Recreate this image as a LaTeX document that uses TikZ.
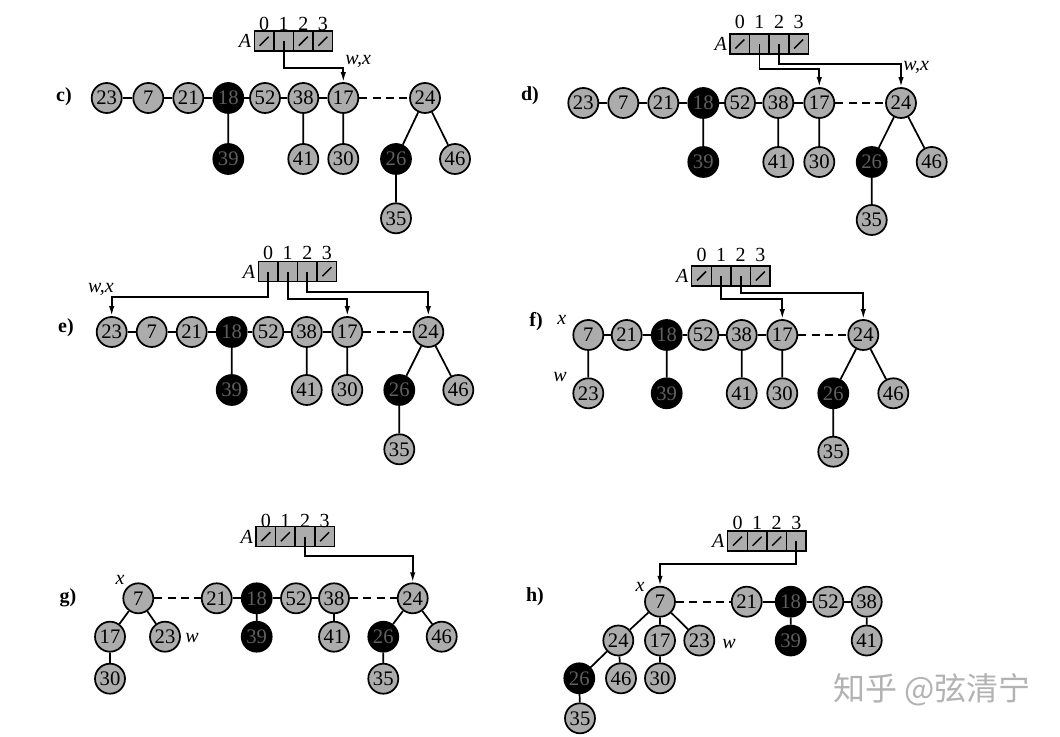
\documentclass[tikz,border=0pt]{standalone}
\usepackage{fontspec}
\setmainfont{Liberation Serif}
\newfontfamily\cjkfont{Noto Sans CJK SC}
\usetikzlibrary{arrows.meta}
\definecolor{ngray}{RGB}{172,172,172}
\definecolor{ntext}{RGB}{95,95,95}
\newcommand\mkg[4]{\node[gn] (#1#2) at (#3,#4) {#2};}
\newcommand\mkb[4]{\node[bn] (#1#2) at (#3,#4) {#2};}
\newcommand\mkarr[4]{%
  \node[alab, anchor=east] (#1A) at (#2-3,#3) {A};
  \foreach \i in {0,1,2,3}{%
    \node[cell] (#1a\i) at ({#2+9.8+19.6*\i},#3) {};
    \node[idx] (#1i\i) at ({#2+9.8+19.6*\i},#4) {\i};
  }%
}
\newcommand\slashc[1]{\draw[sl] ([shift={(-4.5,4.5)}]#1.center) -- ([shift={(4.5,-4.5)}]#1.center);}
\begin{document}
\begin{tikzpicture}[x=0.75pt,y=-0.75pt,
  gn/.style={circle,draw=black,line width=1.3pt,fill=ngray,minimum size=22.5pt,inner sep=0pt,font=\fontsize{15.5}{15.5}\selectfont},
  bn/.style={circle,draw=black,line width=1.3pt,fill=black,text=ntext,minimum size=22.5pt,inner sep=0pt,font=\fontsize{15.5}{15.5}\selectfont},
  cell/.style={rectangle,draw=black,line width=1.1pt,fill=ngray,minimum width=14.7pt,minimum height=15pt,inner sep=0pt},
  idx/.style={inner sep=0pt,font=\fontsize{15}{15}\selectfont},
  alab/.style={inner sep=0pt,font=\fontsize{15}{15}\selectfont\itshape},
  lab/.style={inner sep=0pt,font=\fontsize{15}{15}\selectfont\itshape},
  plab/.style={inner sep=0pt,font=\fontsize{15}{15}\selectfont\bfseries},
  sl/.style={line width=1.1pt},
  ed/.style={line width=1.3pt},
  dsh/.style={line width=1.3pt,dash pattern=on 6pt off 4pt},
  ptr/.style={line width=1.3pt,-{Latex[length=7.5pt,width=4pt]}}
]
\useasboundingbox (0,0) rectangle (1060,737);

% ---------------- c) ----------------
\node[plab] (lc) at (64,97) {c)};
\mkarr{c}{254.3}{41.2}{23.5}
\slashc{ca0}\slashc{ca2}\slashc{ca3}
\mkg{c}{23}{106.7}{98}\mkg{c}{7}{148.3}{98}\mkg{c}{21}{188.3}{98}\mkb{c}{18}{228.3}{98}
\mkg{c}{52}{265}{98}\mkg{c}{38}{303.3}{98}\mkg{c}{17}{343.3}{98}\mkg{c}{24}{425}{98}
\mkb{c}{39}{228.3}{159}\mkg{c}{41}{303.3}{159}\mkg{c}{30}{343.3}{159}\mkb{c}{26}{396}{159}\mkg{c}{46}{455}{159}
\mkg{c}{35}{396}{218.3}
\draw[ed] (c23)--(c7)--(c21)--(c18)--(c52)--(c38)--(c17);
\draw[dsh] (c17)--(c24);
\draw[ed] (c18)--(c39) (c38)--(c41) (c17)--(c30) (c24)--(c26) (c24)--(c46) (c26)--(c35);
\coordinate (cy1) at (0,67.7);
\draw[ptr] (ca1.center) |- (c17.north |- cy1) -- (c17.north);
\node[lab,anchor=west] (cwx) at (345,61) {w,x};

% ---------------- d) ----------------
\node[plab] (ld) at (530,96) {d)};
\mkarr{d}{730}{44}{22}
\slashc{da0}\slashc{da3}
\mkg{d}{23}{583.3}{103}\mkg{d}{7}{623.3}{103}\mkg{d}{21}{663.3}{103}\mkb{d}{18}{703.3}{103}
\mkg{d}{52}{740}{103}\mkg{d}{38}{778.3}{103}\mkg{d}{17}{819.3}{103}\mkg{d}{24}{901}{103}
\mkb{d}{39}{703.3}{162}\mkg{d}{41}{778.3}{162}\mkg{d}{30}{819.3}{162}\mkb{d}{26}{871.7}{162}\mkg{d}{46}{931.7}{162}
\mkg{d}{35}{871.7}{220}
\draw[ed] (d23)--(d7)--(d21)--(d18)--(d52)--(d38)--(d17);
\draw[dsh] (d17)--(d24);
\draw[ed] (d18)--(d39) (d38)--(d41) (d17)--(d30) (d24)--(d26) (d24)--(d46) (d26)--(d35);
\coordinate (dy1) at (0,69.3);
\coordinate (dy2) at (0,64);
\draw[ptr] (da1.center) |- (d17.north |- dy1) -- (d17.north);
\draw[ptr] (da2.center) |- (d24.north |- dy2) -- (d24.north);
\node[lab,anchor=west] (dwx) at (903,67) {w,x};

% ---------------- e) ----------------
\node[plab] (le) at (66,328) {e)};
\mkarr{e}{258.3}{271.7}{253.3}
\slashc{ea3}
\mkg{e}{23}{111.7}{332}\mkg{e}{7}{151.7}{332}\mkg{e}{21}{191.7}{332}\mkb{e}{18}{231.7}{332}
\mkg{e}{52}{268.3}{332}\mkg{e}{38}{306.7}{332}\mkg{e}{17}{347.3}{332}\mkg{e}{24}{428.3}{332}
\mkb{e}{39}{231.7}{390}\mkg{e}{41}{306.7}{390}\mkg{e}{30}{347.3}{390}\mkb{e}{26}{399.3}{390}\mkg{e}{46}{458.3}{390}
\mkg{e}{35}{399.3}{449.3}
\draw[ed] (e23)--(e7)--(e21)--(e18)--(e52)--(e38)--(e17);
\draw[dsh] (e17)--(e24);
\draw[ed] (e18)--(e39) (e38)--(e41) (e17)--(e30) (e24)--(e26) (e24)--(e46) (e26)--(e35);
\coordinate (ey0) at (0,297.3);
\coordinate (ey1) at (0,299.3);
\coordinate (ey2) at (0,291.7);
\draw[ptr] (ea0.center) |- (e23.north |- ey0) -- (e23.north);
\draw[ptr] (ea1.center) |- (e17.north |- ey1) -- (e17.north);
\draw[ptr] (ea2.center) |- (e24.north |- ey2) -- (e24.north);
\node[lab] (ewx) at (101,289) {w,x};

% ---------------- f) ----------------
\node[plab] (lf) at (536,322) {f)};
\mkarr{f}{691.7}{276}{255}
\slashc{fa0}\slashc{fa3}
\mkg{f}{7}{588.3}{335}\mkg{f}{21}{626.7}{335}\mkb{f}{18}{666.7}{335}
\mkg{f}{52}{703.3}{335}\mkg{f}{38}{741.7}{335}\mkg{f}{17}{782.3}{335}\mkg{f}{24}{863.3}{335}
\mkg{f}{23}{588.3}{393.3}\mkb{f}{39}{666.7}{393.3}\mkg{f}{41}{741.7}{393.3}\mkg{f}{30}{782.3}{393.3}\mkb{f}{26}{833.3}{393.3}\mkg{f}{46}{893.3}{393.3}
\mkg{f}{35}{833.3}{451.7}
\draw[ed] (f7)--(f21)--(f18)--(f52)--(f38)--(f17);
\draw[dsh] (f17)--(f24);
\draw[ed] (f7)--(f23) (f18)--(f39) (f38)--(f41) (f17)--(f30) (f24)--(f26) (f24)--(f46) (f26)--(f35);
\coordinate (fy1) at (0,299.3);
\coordinate (fy2) at (0,292.7);
\draw[ptr] (fa1.center) |- (f17.north |- fy1) -- (f17.north);
\draw[ptr] (fa2.center) |- (f24.north |- fy2) -- (f24.north);
\node[lab] (fx) at (561.7,320) {x};
\node[lab] (fw) at (560,377) {w};

% ---------------- g) ----------------
\node[plab] (lg) at (68,598) {g)};
\mkarr{g}{256}{536.7}{520.5}
\slashc{ga0}\slashc{ga1}\slashc{ga3}
\mkg{g}{7}{138.3}{598.3}\mkg{g}{21}{216.7}{598.3}\mkb{g}{18}{256.7}{598.3}
\mkg{g}{52}{296}{598.3}\mkg{g}{38}{334}{598.3}\mkg{g}{24}{412.7}{598.3}
\mkg{g}{17}{110}{636.7}\mkg{g}{23}{165}{636.7}\mkb{g}{39}{256.7}{636.7}\mkg{g}{41}{334}{636.7}\mkb{g}{26}{383.3}{636.7}\mkg{g}{46}{441.7}{636.7}
\mkg{g}{30}{110}{678.7}\mkg{g}{35}{383.3}{678.7}
\draw[dsh] (g7)--(g21);
\draw[ed] (g21)--(g18)--(g52)--(g38);
\draw[dsh] (g38)--(g24);
\draw[ed] (g7)--(g17) (g7)--(g23) (g17)--(g30) (g18)--(g39) (g38)--(g41) (g24)--(g26) (g24)--(g46) (g26)--(g35);
\coordinate (gy2) at (0,555.7);
\draw[ptr] (ga2.center) |- (g24.north |- gy2) -- (g24.north);
\node[lab] (gx) at (120,580) {x};
\node[lab] (gw) at (192,638) {w};

% ---------------- h) ----------------
\node[plab] (lh) at (535,597) {h)};
\mkarr{h}{727.7}{541.2}{523.3}
\slashc{ha0}\slashc{ha1}\slashc{ha2}
\mkg{h}{7}{660}{601.7}\mkg{h}{21}{746.7}{601.7}\mkb{h}{18}{790.7}{601.7}
\mkg{h}{52}{828.3}{601.7}\mkg{h}{38}{866.7}{601.7}
\mkg{h}{24}{618.3}{640.5}\mkg{h}{17}{660}{640.5}\mkg{h}{23}{699.3}{640.5}\mkb{h}{39}{790.7}{640.5}\mkg{h}{41}{866.7}{640.5}
\mkb{h}{26}{579.3}{678.3}\mkg{h}{46}{621}{678.3}\mkg{h}{30}{660}{678.3}
\mkg{h}{35}{580}{718.3}
\draw[dsh] (h7)--(h21);
\draw[ed] (h21)--(h18)--(h52)--(h38);
\draw[ed] (h7)--(h24) (h7)--(h17) (h7)--(h23) (h24)--(h26) (h24)--(h46) (h17)--(h30) (h26)--(h35) (h18)--(h39) (h38)--(h41);
\coordinate (hy3) at (0,564);
\draw[ptr] (ha3.center) |- (h7.north |- hy3) -- (h7.north);
\node[lab] (hx) at (640,586.7) {x};
\node[lab] (hw) at (729,644) {w};

% watermark
\node[inner sep=0pt,text=black!30,font=\cjkfont\fontsize{24}{24}\selectfont] (wm) at (932,690) {知乎 @弦清宁};
\end{tikzpicture}
\end{document}
